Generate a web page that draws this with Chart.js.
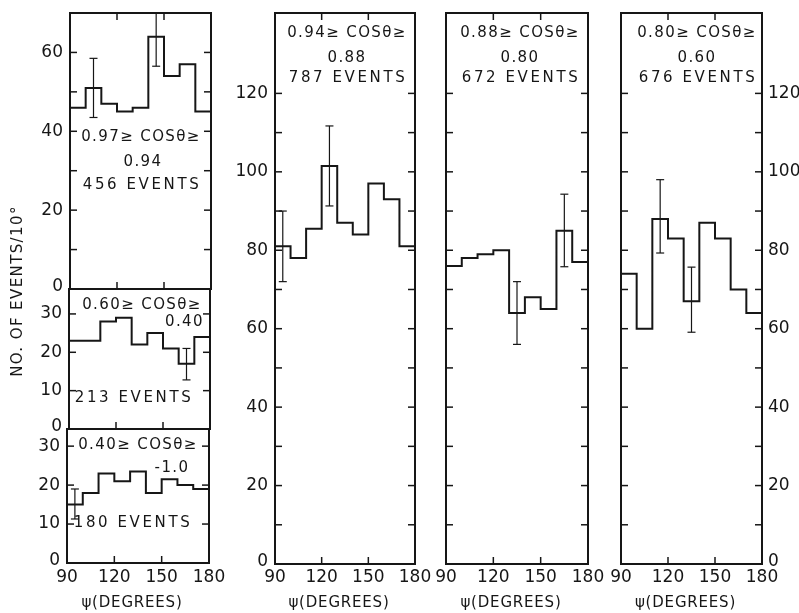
<!DOCTYPE html>
<html>
<head>
<meta charset="utf-8">
<script src="https://cdn.jsdelivr.net/npm/chart.js@4.4.1/dist/chart.umd.min.js"></script>
<style>
  body { margin: 0; background: #fff; }
  #wrap { position: relative; width: 799px; height: 613px; }
  #wrap canvas { position: absolute; left: 0; top: 0; }
</style>
</head>
<body>
<div id="wrap"></div>
<script>
// bin edges in psi (degrees), 10 degree bins
const psiEdges = [90, 100, 110, 120, 130, 140, 150, 160, 170, 180];
const psiTickLabels = [90, 120, 150, 180];
const psiMinorTicks = [120, 150];

// counts per bin
const counts097 = [46, 51, 47, 45, 46, 64, 54, 57, 45];
const counts060 = [23, 23, 28, 29, 22, 25, 21, 17, 24];
const counts040 = [15, 18, 23, 21, 23.5, 18, 21.5, 20, 19];
const counts094 = [81, 78, 85.5, 101.5, 87, 84, 97, 93, 81];
const counts088 = [76, 78, 79, 80, 64, 68, 65, 85, 77];
const counts080 = [74, 60, 88, 83, 67, 87, 83, 70, 64];

// error bars: [psi, low, high]
const errors097 = [[105, 43.5, 58.5], [145, 56.5, 72]];
const errors060 = [[165, 12.8, 21]];
const errors040 = [[95, 11.3, 19]];
const errors094 = [[95, 72, 90], [125, 91.3, 111.7]];
const errors088 = [[135, 56, 72], [165, 75.8, 94.3]];
const errors080 = [[115, 79.3, 98], [135, 59.1, 75.7]];

// tick labels on the count axes
const ticksTop = [0, 20, 40, 60];
const ticksSmall = [0, 10, 20, 30];
const ticksBig = [0, 20, 40, 60, 80, 100, 120];
const minorTop = [10, 20, 30, 40, 50, 60];
const minorSmall = [10, 20, 30];
const minorBig = [10, 20, 30, 40, 50, 60, 70, 80, 90, 100, 110, 120];

const ink = '#161616';
const fontFam = '"DejaVu Sans", sans-serif';

const panels = [
  { box: [70, 13, 211, 289], yMax: 70, counts: counts097, errors: errors097,
    labels: ticksTop, minor: minorTop, side: 'left', topTicks: true, xLabels: false,
    notes: [['0.97≥ COSθ≥', 141, 137], ['0.94', 143, 162], ['456 EVENTS', 142, 185]] },
  { box: [69, 289, 210, 429], yMax: 36.5, counts: counts060, errors: errors060,
    labels: ticksSmall, minor: minorSmall, side: 'left', topTicks: false, xLabels: false, yTitle: true,
    notes: [['0.60≥ COSθ≥', 142, 305], ['0.40', 204, 322, 'right'], ['213 EVENTS', 134, 398]] },
  { box: [67, 429, 209, 563], yMax: 34.4, counts: counts040, errors: errors040,
    labels: ticksSmall, minor: minorSmall, side: 'left', topTicks: false, xLabels: true,
    notes: [['0.40≥ COSθ≥', 138, 445], ['-1.0', 172, 468], ['180 EVENTS', 133, 523]] },
  { box: [275, 13, 415, 564], yMax: 140.5, counts: counts094, errors: errors094,
    labels: ticksBig, minor: minorBig, side: 'left', topTicks: true, xLabels: true,
    notes: [['0.94≥ COSθ≥', 347, 33], ['0.88', 347, 58], ['787 EVENTS', 348, 78]] },
  { box: [446, 13, 588, 564], yMax: 140.5, counts: counts088, errors: errors088,
    labels: [], minor: minorBig, side: 'none', topTicks: true, xLabels: true,
    notes: [['0.88≥ COSθ≥', 520, 33], ['0.80', 520, 58], ['672 EVENTS', 521, 78]] },
  { box: [621, 13, 762, 564], yMax: 140.5, counts: counts080, errors: errors080,
    labels: ticksBig, minor: minorBig, side: 'right', topTicks: true, xLabels: true,
    notes: [['0.80≥ COSθ≥', 697, 33], ['0.60', 697, 58], ['676 EVENTS', 698, 78]] }
];

function drawText(ctx, str, x, y, size, align, spacing) {
  ctx.font = size + 'px ' + fontFam;
  ctx.letterSpacing = (spacing || 0) + 'px';
  ctx.textAlign = align || 'center';
  ctx.textBaseline = 'middle';
  ctx.fillText(str, x, y);
  ctx.letterSpacing = '0px';
}

function makeFrame(cfg) {
  return {
    id: 'frame',
    afterDraw(chart) {
      const ctx = chart.ctx;
      const a = chart.chartArea;
      const xs = chart.scales.x, ys = chart.scales.y;
      const line = (x1, y1, x2, y2) => { ctx.beginPath(); ctx.moveTo(x1, y1); ctx.lineTo(x2, y2); ctx.stroke(); };
      ctx.save();
      ctx.strokeStyle = ink;
      ctx.fillStyle = ink;
      ctx.lineWidth = 2;
      ctx.strokeRect(a.left, a.top, a.right - a.left, a.bottom - a.top);
      ctx.lineWidth = 1.5;
      const tl = 7;
      cfg.minor.forEach(v => {
        const py = ys.getPixelForValue(v);
        line(a.left, py, a.left + tl, py);
        line(a.right - tl, py, a.right, py);
      });
      psiMinorTicks.forEach(v => {
        const px = xs.getPixelForValue(v);
        line(px, a.bottom, px, a.bottom - tl);
        if (cfg.topTicks) line(px, a.top, px, a.top + tl);
      });
      cfg.labels.forEach(v => {
        const py = ys.getPixelForValue(v) - (v === 0 ? 2 : 0);
        if (cfg.side === 'left') drawText(ctx, String(v), a.left - 7, py, 17, 'right', 0);
        if (cfg.side === 'right') drawText(ctx, String(v), a.right + 6, py, 17, 'left', 0);
      });
      if (cfg.xLabels) {
        psiTickLabels.forEach(v => {
          drawText(ctx, String(v), xs.getPixelForValue(v), 578, 17, 'center', 0);
        });
        drawText(ctx, 'ψ(DEGREES)', (a.left + a.right) / 2 - 6, 603, 15, 'center', 0.8);
      }
      cfg.notes.forEach(n => {
        const spacing = n[0].indexOf('EVENTS') >= 0 ? 2.6 : 1.4;
        drawText(ctx, n[0], n[1], n[2], 15, n[3] || 'center', spacing);
      });
      if (cfg.yTitle) {
        ctx.translate(18, 291);
        ctx.rotate(-Math.PI / 2);
        drawText(ctx, 'NO. OF EVENTS/10°', 0, 0, 15, 'center', 1.4);
      }
      ctx.restore();
    }
  };
}

const wrap = document.getElementById('wrap');
panels.forEach(cfg => {
  const canvas = document.createElement('canvas');
  canvas.width = 799;
  canvas.height = 613;
  wrap.appendChild(canvas);

  const histPoints = psiEdges.map((e, i) => ({ x: e, y: cfg.counts[Math.min(i, cfg.counts.length - 1)] }));
  const datasets = [{
    data: histPoints,
    borderColor: ink,
    borderWidth: 2,
    pointRadius: 0,
    stepped: 'before',
    fill: false
  }];
  cfg.errors.forEach(err => {
    datasets.push({
      data: [{ x: err[0], y: err[1] }, { x: err[0], y: err[2] }],
      borderColor: ink,
      borderWidth: 1.2,
      pointStyle: 'line',
      pointRadius: 4,
      pointBorderWidth: 1.2,
      pointBorderColor: ink,
      fill: false
    });
  });

  new Chart(canvas, {
    type: 'line',
    data: { datasets: datasets },
    options: {
      responsive: false,
      animation: false,
      devicePixelRatio: 1,
      layout: {
        padding: { left: cfg.box[0], top: cfg.box[1], right: 799 - cfg.box[2], bottom: 613 - cfg.box[3] }
      },
      plugins: { legend: { display: false }, tooltip: { enabled: false } },
      scales: {
        x: { type: 'linear', min: 90, max: 180, display: false },
        y: { type: 'linear', min: 0, max: cfg.yMax, display: false }
      }
    },
    plugins: [makeFrame(cfg)]
  });
});
</script>
</body>
</html>
